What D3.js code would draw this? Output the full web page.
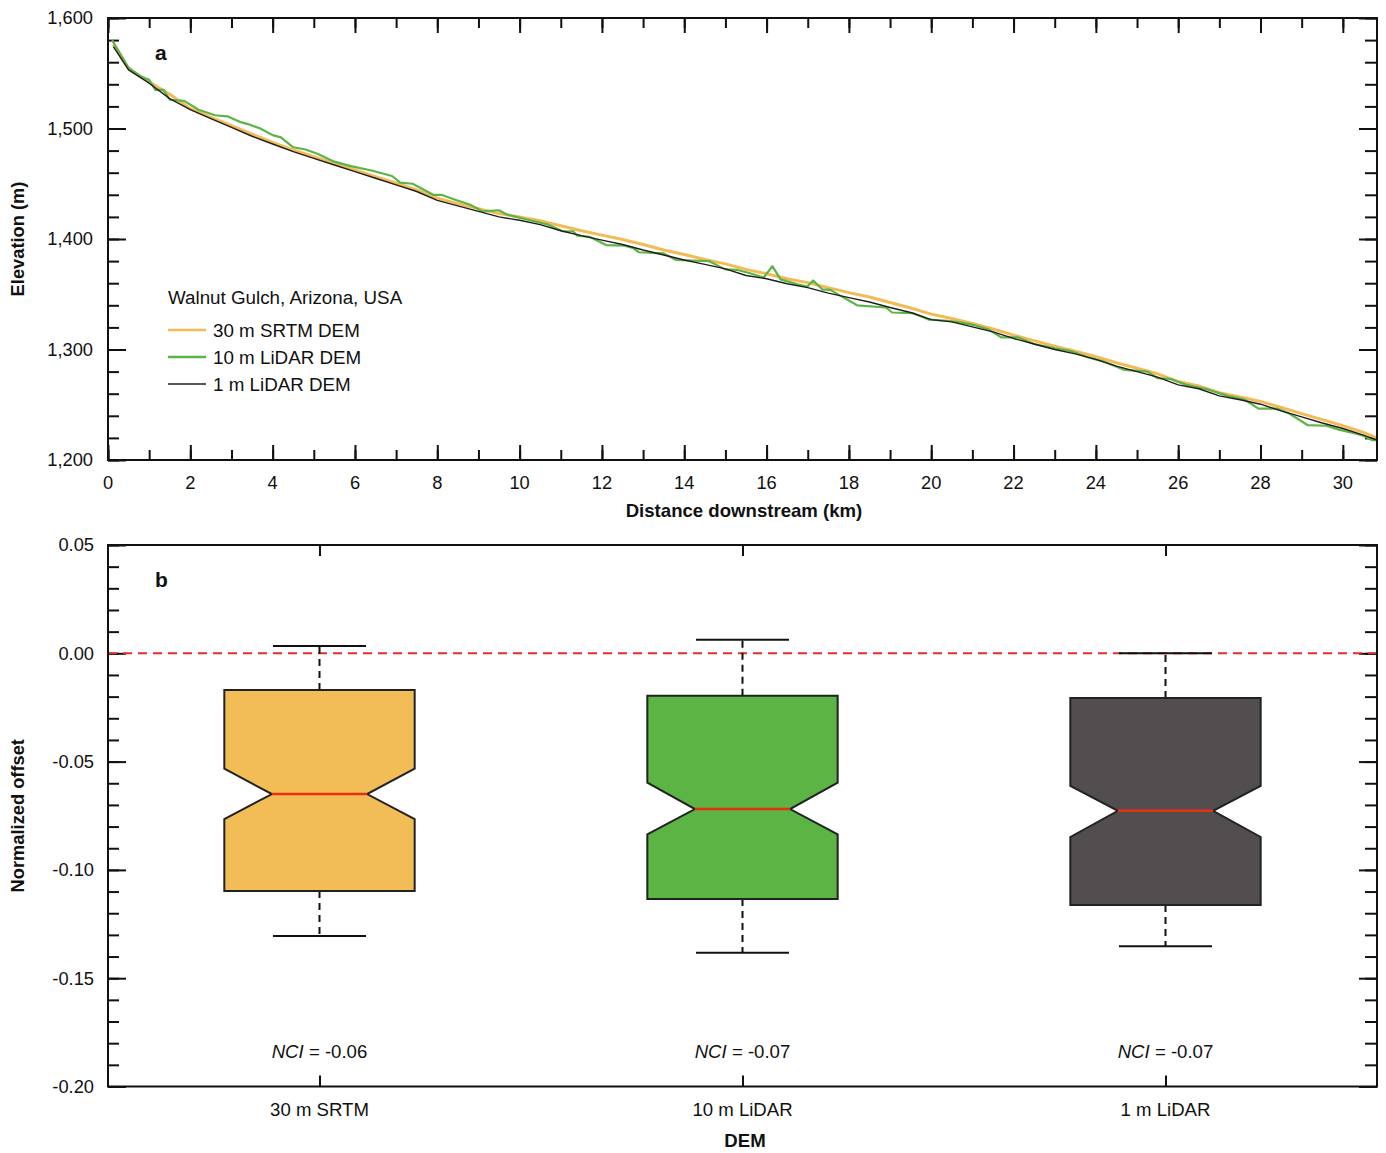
<!DOCTYPE html>
<html>
<head>
<meta charset="utf-8">
<script src="https://cdn.jsdelivr.net/npm/d3@7/dist/d3.min.js"></script>
<style>
  body { margin: 0; background: #fff; }
  text { font-family: "Liberation Sans", Arial, sans-serif; fill: #111; }
</style>
</head>
<body>
<div id="vis"></div>
<script>
// ---- panel a: elevation profiles ----
var srtmKm = [0.13, 0.5, 1, 1.5, 2, 2.5, 3, 3.5, 4, 4.5, 5, 5.5, 6, 6.5, 7, 7.5, 8, 8.5, 9, 9.5, 10, 10.5, 11, 11.5, 12, 12.5, 13, 13.5, 14, 14.5, 15, 15.5, 16, 16.5, 17, 17.5, 18, 18.5, 19, 19.5, 20, 20.5, 21, 21.5, 22, 22.5, 23, 23.5, 24, 24.5, 25, 25.5, 26, 26.5, 27, 27.5, 28, 28.5, 29, 29.5, 30, 30.5, 30.83];
var srtmElev = [1576, 1554, 1542, 1531, 1518, 1510, 1502.5, 1495, 1487.5, 1480.5, 1474.5, 1468.5, 1462.5, 1456.5, 1450.5, 1444.5, 1437, 1432, 1427.5, 1423, 1420, 1416.5, 1412, 1407.5, 1403.5, 1399.5, 1395, 1390, 1386, 1381.5, 1377.5, 1372.5, 1368.5, 1364, 1360.5, 1356, 1351.5, 1347.5, 1342.5, 1337.5, 1332, 1328, 1323.5, 1318.5, 1313, 1308, 1303, 1298.5, 1293.5, 1288, 1283, 1278, 1271, 1267, 1261, 1257, 1253, 1247.5, 1242, 1236.5, 1231, 1225, 1220];

var lidar10Km = [0.1, 0.5, 0.8, 1.0, 1.15, 1.35, 1.5, 1.85, 2.2, 2.6, 2.9, 3.2, 3.4, 3.7, 4.0, 4.2, 4.5, 4.8, 5.1, 5.5, 5.9, 6.4, 6.9, 7.1, 7.4, 7.9, 8.1, 8.4, 8.8, 9.1, 9.5, 9.7, 10.25, 10.7, 11.05, 11.3, 11.4, 11.7, 12.1, 12.55, 12.75, 12.9, 13.5, 13.8, 14.6, 14.99, 15.3, 15.6, 15.93, 16.14, 16.34, 16.75, 16.99, 17.13, 17.35, 17.55, 17.8, 18.2, 18.9, 19.05, 19.55, 19.95, 20.4, 20.7, 21.06, 21.4, 21.7, 22.1, 22.5, 23.0, 23.4, 23.8, 24.2, 24.7, 25.25, 25.5, 25.8, 26.2, 26.7, 27.2, 27.6, 27.95, 28.4, 28.7, 29.15, 29.6, 29.9, 30.3, 30.5, 30.7, 30.83];
var lidar10Elev = [1580, 1555, 1547, 1544, 1535, 1535, 1526, 1525, 1517, 1512, 1511, 1506, 1504, 1500, 1494, 1492, 1483, 1481, 1477, 1470, 1466, 1462, 1457, 1451, 1450, 1440, 1440, 1436, 1431, 1425, 1426, 1422, 1417, 1413, 1407, 1407, 1403, 1402, 1394.5, 1394, 1392, 1388, 1387, 1381, 1380, 1372.5, 1372, 1369, 1365, 1375.5, 1363.5, 1359, 1357, 1362.5, 1354.5, 1354, 1348.5, 1340, 1338, 1333.5, 1333, 1327, 1326, 1324.5, 1322, 1318, 1311, 1311, 1305, 1301, 1298.5, 1293, 1289, 1281.5, 1280, 1274, 1273.5, 1268, 1264, 1258, 1255, 1246.5, 1246.5, 1242, 1231.5, 1231, 1227.5, 1224, 1222, 1218, 1218];

var lidar1Km = [0.13, 0.5, 1, 1.5, 2, 2.5, 3, 3.5, 4, 4.5, 5, 5.5, 6, 6.5, 7, 7.5, 8, 8.5, 9, 9.5, 10, 10.5, 11, 11.5, 12, 12.5, 13, 13.5, 14, 14.5, 15, 15.5, 16, 16.5, 17, 17.5, 18, 18.5, 19, 19.5, 20, 20.5, 21, 21.5, 22, 22.5, 23, 23.5, 24, 24.5, 25, 25.5, 26, 26.5, 27, 27.5, 28, 28.5, 29, 29.5, 30, 30.5, 30.83];
var lidar1Elev = [1574, 1553, 1541, 1527, 1517, 1509, 1501, 1493, 1486, 1479, 1473, 1467, 1461, 1455, 1449, 1443, 1435, 1430, 1425, 1420, 1417, 1413, 1407.5, 1403, 1399, 1395, 1390, 1385.5, 1381, 1377, 1373, 1367, 1364, 1359.5, 1356, 1351, 1347, 1343, 1338, 1333.5, 1327, 1325, 1320.5, 1316, 1310, 1305, 1300, 1296, 1291, 1285, 1280, 1275, 1268, 1264.5, 1258, 1254.5, 1250.5, 1244.5, 1239, 1233.5, 1228.5, 1222.5, 1218];

var seriesNames = ["30 m SRTM DEM", "10 m LiDAR DEM", "1 m LiDAR DEM"];
var elevTicks = [1200, 1300, 1400, 1500, 1600];
var distTicks = [0, 2, 4, 6, 8, 10, 12, 14, 16, 18, 20, 22, 24, 26, 28, 30];

// ---- panel b: normalized offset boxplots ----
var demNames = ["30 m SRTM", "10 m LiDAR", "1 m LiDAR"];
var whiskerLow = [-0.1305, -0.1382, -0.1353];
var boxQ1 = [-0.1097, -0.1134, -0.1162];
var notchLow = [-0.0765, -0.0836, -0.0848];
var boxMedian = [-0.0650, -0.0719, -0.0727];
var notchHigh = [-0.0533, -0.0597, -0.0612];
var boxQ3 = [-0.0169, -0.0196, -0.0206];
var whiskerHigh = [0.0034, 0.0063, 0.0000];
var nciLabels = ["-0.06", "-0.07", "-0.07"];
var offsetTicks = [-0.20, -0.15, -0.10, -0.05, 0.00, 0.05];

var lineColors = ["#f2bb55", "#5cb446", "#1e1e1e"];
var boxColors = ["#f2bd57", "#5bb443", "#524d4e"];

var fmt = d3.formatLocale({decimal: ".", thousands: ",", grouping: [3], currency: ["", ""], minus: "-"});

var svg = d3.select("#vis").append("svg")
  .attr("width", 1386)
  .attr("height", 1153);

var left = 108, right = 1377;

// ===== panel a =====
var topA = 18, botA = 460;
var x = d3.scaleLinear().domain([0, 30.83]).range([left, right]);
var y = d3.scaleLinear().domain([1200, 1600]).range([botA, topA]);

var minorElev = d3.range(1200, 1601, 20);
var minorKm = d3.range(0, 31, 1);

function drawTicks(g, axisFn, scale, values, size, pos) {
  g.append("g")
    .attr("transform", pos)
    .call(axisFn(scale).tickValues(values).tickSize(size).tickFormat(""))
    .call(function (a) { a.select(".domain").remove(); a.selectAll("line").attr("stroke", "#111").attr("stroke-width", 2); });
}

var gA = svg.append("g");
// left and right
drawTicks(gA, d3.axisLeft, y, minorElev, -11, "translate(" + left + ",0)");
drawTicks(gA, d3.axisLeft, y, elevTicks, -18, "translate(" + left + ",0)");
drawTicks(gA, d3.axisRight, y, minorElev, -12, "translate(" + right + ",0)");
drawTicks(gA, d3.axisRight, y, elevTicks, -18, "translate(" + right + ",0)");
// top and bottom
drawTicks(gA, d3.axisBottom, x, minorKm, -10, "translate(0," + botA + ")");
drawTicks(gA, d3.axisBottom, x, distTicks, -15, "translate(0," + botA + ")");
drawTicks(gA, d3.axisTop, x, minorKm, -10, "translate(0," + topA + ")");
drawTicks(gA, d3.axisTop, x, distTicks, -15, "translate(0," + topA + ")");

gA.selectAll(".ylab")
  .data(elevTicks)
  .enter()
  .append("text")
  .attr("x", 93)
  .attr("y", function (d) { return y(d); })
  .attr("dy", "0.35em")
  .attr("text-anchor", "end")
  .attr("font-size", "18.3px")
  .text(function (d) { return fmt.format(",")(d); });

gA.selectAll(".xlab")
  .data(distTicks)
  .enter()
  .append("text")
  .attr("x", function (d) { return x(d); })
  .attr("y", 489)
  .attr("text-anchor", "middle")
  .attr("font-size", "18.3px")
  .text(function (d) { return d; });

var line = d3.line()
  .x(function (d) { return x(d[0]); })
  .y(function (d) { return y(d[1]); });

var profiles = [
  d3.zip(srtmKm, srtmElev),
  d3.zip(lidar10Km, lidar10Elev),
  d3.zip(lidar1Km, lidar1Elev)
];
var widths = [3, 2.2, 1.4];

profiles.forEach(function (p, i) {
  gA.append("path")
    .datum(p)
    .attr("fill", "none")
    .attr("stroke", lineColors[i])
    .attr("stroke-width", widths[i])
    .attr("stroke-linejoin", "round")
    .attr("d", line);
});

gA.append("rect")
  .attr("x", left).attr("y", topA)
  .attr("width", right - left).attr("height", botA - topA)
  .attr("fill", "none").attr("stroke", "#111").attr("stroke-width", 2);

gA.append("text")
  .attr("x", 155).attr("y", 60)
  .attr("font-size", "21px").attr("font-weight", "bold")
  .text("a");

// legend
gA.append("text")
  .attr("x", 168).attr("y", 304)
  .attr("font-size", "18.8px")
  .text("Walnut Gulch, Arizona, USA");

seriesNames.forEach(function (name, i) {
  var ly = 330 + i * 27;
  gA.append("line")
    .attr("x1", 168).attr("x2", 206)
    .attr("y1", ly).attr("y2", ly)
    .attr("stroke", lineColors[i])
    .attr("stroke-width", i == 2 ? 1.4 : 2.5);
  gA.append("text")
    .attr("x", 213).attr("y", ly)
    .attr("dy", "0.35em")
    .attr("font-size", "18.8px")
    .text(name);
});

gA.append("text")
  .attr("x", 744).attr("y", 517)
  .attr("text-anchor", "middle")
  .attr("font-size", "18.6px").attr("font-weight", "bold")
  .text("Distance downstream (km)");

gA.append("text")
  .attr("transform", "translate(18," + (topA + botA) / 2 + ") rotate(-90)")
  .attr("dy", "0.35em")
  .attr("text-anchor", "middle")
  .attr("font-size", "18.3px").attr("font-weight", "bold")
  .text("Elevation (m)");

// ===== panel b =====
var topB = 545, botB = 1086.5;
var xb = d3.scalePoint().domain(demNames).range([left, right]).padding(0.5);
var yb = d3.scaleLinear().domain([-0.20, 0.05]).range([botB, topB]);
var step = xb.step();
var boxW = step * 0.45;
var capW = step * 0.22;

var minorOffset = d3.range(-20, 6, 1).map(function (v) { return v / 100; });

var gB = svg.append("g");
drawTicks(gB, d3.axisLeft, yb, minorOffset, -11, "translate(" + left + ",0)");
drawTicks(gB, d3.axisLeft, yb, offsetTicks, -18, "translate(" + left + ",0)");
drawTicks(gB, d3.axisRight, yb, minorOffset, -12, "translate(" + right + ",0)");
drawTicks(gB, d3.axisRight, yb, offsetTicks, -18, "translate(" + right + ",0)");
drawTicks(gB, d3.axisBottom, xb, demNames, -11, "translate(0," + botB + ")");
drawTicks(gB, d3.axisTop, xb, demNames, -11, "translate(0," + topB + ")");

gB.selectAll(".yblab")
  .data(offsetTicks)
  .enter()
  .append("text")
  .attr("x", 94)
  .attr("y", function (d) { return yb(d); })
  .attr("dy", "0.35em")
  .attr("text-anchor", "end")
  .attr("font-size", "18.3px")
  .text(function (d) { return fmt.format(".2f")(d); });

gB.selectAll(".xblab")
  .data(demNames)
  .enter()
  .append("text")
  .attr("x", function (d) { return xb(d); })
  .attr("y", 1116)
  .attr("text-anchor", "middle")
  .attr("font-size", "18.6px")
  .text(function (d) { return d; });

// zero reference line
gB.append("line")
  .attr("x1", left).attr("x2", right)
  .attr("y1", yb(0)).attr("y2", yb(0))
  .attr("stroke", "#e0302a")
  .attr("stroke-width", 2)
  .attr("stroke-dasharray", "9,6");

demNames.forEach(function (name, i) {
  var cx = xb(name);
  var l = cx - boxW / 2, r = cx + boxW / 2;
  var nw = boxW / 4;
  // whiskers
  [[boxQ3[i], whiskerHigh[i]], [boxQ1[i], whiskerLow[i]]].forEach(function (w) {
    gB.append("line")
      .attr("x1", cx).attr("x2", cx)
      .attr("y1", yb(w[0])).attr("y2", yb(w[1]))
      .attr("stroke", "#111").attr("stroke-width", 2)
      .attr("stroke-dasharray", "7,5");
    gB.append("line")
      .attr("x1", cx - capW / 2).attr("x2", cx + capW / 2)
      .attr("y1", yb(w[1])).attr("y2", yb(w[1]))
      .attr("stroke", "#111").attr("stroke-width", 2);
  });
  var pts = [
    [l, yb(boxQ3[i])], [r, yb(boxQ3[i])], [r, yb(notchHigh[i])],
    [cx + nw, yb(boxMedian[i])], [r, yb(notchLow[i])], [r, yb(boxQ1[i])],
    [l, yb(boxQ1[i])], [l, yb(notchLow[i])], [cx - nw, yb(boxMedian[i])],
    [l, yb(notchHigh[i])]
  ];
  gB.append("polygon")
    .attr("points", pts.map(function (p) { return p.join(","); }).join(" "))
    .attr("fill", boxColors[i])
    .attr("stroke", "#222")
    .attr("stroke-width", 2)
    .attr("stroke-linejoin", "miter");
  gB.append("line")
    .attr("x1", cx - nw).attr("x2", cx + nw)
    .attr("y1", yb(boxMedian[i])).attr("y2", yb(boxMedian[i]))
    .attr("stroke", "#e8300e").attr("stroke-width", 2.5);

  var t = gB.append("text")
    .attr("x", cx).attr("y", 1058)
    .attr("text-anchor", "middle")
    .attr("font-size", "18.6px");
  t.append("tspan").attr("font-style", "italic").text("NCI");
  t.append("tspan").text(" = " + nciLabels[i]);
});

gB.append("rect")
  .attr("x", left).attr("y", topB)
  .attr("width", right - left).attr("height", botB - topB)
  .attr("fill", "none").attr("stroke", "#111").attr("stroke-width", 2);

gB.append("text")
  .attr("x", 155).attr("y", 587)
  .attr("font-size", "21px").attr("font-weight", "bold")
  .text("b");

gB.append("text")
  .attr("x", 745).attr("y", 1147)
  .attr("text-anchor", "middle")
  .attr("font-size", "18.6px").attr("font-weight", "bold")
  .text("DEM");

gB.append("text")
  .attr("transform", "translate(18," + (topB + botB) / 2 + ") rotate(-90)")
  .attr("dy", "0.35em")
  .attr("text-anchor", "middle")
  .attr("font-size", "18.3px").attr("font-weight", "bold")
  .text("Normalized offset");
</script>
</body>
</html>
